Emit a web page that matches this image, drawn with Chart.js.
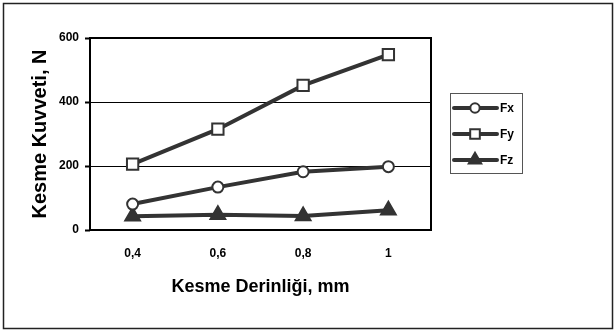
<!DOCTYPE html>
<html>
<head>
<meta charset="utf-8">
<script src="https://cdn.jsdelivr.net/npm/chart.js@4"></script>
<style>
  html, body { margin: 0; padding: 0; background: #fff; }
  #wrap { position: relative; width: 616px; height: 332px; }
</style>
</head>
<body>
<div id="wrap"><canvas id="c" width="616" height="332"></canvas></div>
<script>
const categories = ['0,4', '0,6', '0,8', '1'];
const fxValues = [81, 134, 182, 198];
const fyValues = [206, 315, 452, 548];
const fzValues = [43, 48, 44, 62];
const seriesNames = ['Fx', 'Fy', 'Fz'];
const yTickValues = [0, 200, 400, 600];
const xTitle = 'Kesme Derinliği, mm';
const yTitle = 'Kesme Kuvveti, N';

const ink = '#333333';
const fontFam = '"Liberation Sans", Arial, sans-serif';

const framePlugin = {
  id: 'frame',
  beforeDraw(chart) {
    const ctx = chart.ctx;
    ctx.save();
    ctx.fillStyle = '#fff';
    ctx.fillRect(0, 0, chart.width, chart.height);
    ctx.strokeStyle = '#222';
    ctx.lineWidth = 1.5;
    ctx.strokeRect(3.5, 3.5, chart.width - 7, chart.height - 7);
    ctx.restore();
  },
  beforeDatasetsDraw(chart) {
    const a = chart.chartArea;
    const ctx = chart.ctx;
    ctx.save();
    ctx.strokeStyle = '#000';
    ctx.lineWidth = 2;
    ctx.strokeRect(a.left, a.top, a.right - a.left, a.bottom - a.top);
    ctx.restore();
  },
  afterDraw(chart) {
    const ctx = chart.ctx;
    const bx = 450, by = 93, bw = 72, bh = 80;
    ctx.save();
    ctx.fillStyle = '#fff';
    ctx.fillRect(bx, by, bw, bh);
    ctx.strokeStyle = '#555';
    ctx.lineWidth = 1;
    ctx.strokeRect(bx + 0.5, by + 0.5, bw, bh);
    const rows = [108, 134, 160];
    chart.data.datasets.forEach((ds, i) => {
      const y = rows[i];
      ctx.strokeStyle = ds.borderColor;
      ctx.lineWidth = ds.borderWidth;
      ctx.lineCap = 'round';
      ctx.beginPath();
      ctx.moveTo(454, y);
      ctx.lineTo(497, y);
      ctx.stroke();
      ctx.lineCap = 'butt';
      ctx.fillStyle = ds.pointBackgroundColor;
      ctx.strokeStyle = ds.pointBorderColor;
      ctx.lineWidth = ds.pointBorderWidth;
      ctx.beginPath();
      const r = ds.pointRadius * 0.85;
      if (ds.pointStyle === 'circle') {
        ctx.arc(475, y, r, 0, Math.PI * 2);
      } else if (ds.pointStyle === 'rect') {
        const s = r * Math.SQRT1_2;
        ctx.rect(475 - s, y - s, 2 * s, 2 * s);
      } else {
        ctx.moveTo(475, y - r);
        ctx.lineTo(475 + r * Math.sin(Math.PI * 2 / 3), y - r * Math.cos(Math.PI * 2 / 3));
        ctx.lineTo(475 - r * Math.sin(Math.PI * 2 / 3), y - r * Math.cos(Math.PI * 2 / 3));
        ctx.closePath();
      }
      ctx.fill();
      ctx.stroke();
      ctx.fillStyle = '#000';
      ctx.font = 'bold 12px ' + fontFam;
      ctx.textBaseline = 'middle';
      ctx.textAlign = 'left';
      ctx.fillText(ds.label, 500, y + 1);
    });
    ctx.restore();
  }
};

function mkDataset(label, data, style, radius, fill) {
  return {
    label: label,
    data: data,
    borderColor: ink,
    borderWidth: 4,
    pointStyle: style,
    pointRadius: radius,
    pointHoverRadius: radius,
    pointBackgroundColor: fill,
    pointBorderColor: ink,
    pointBorderWidth: 2,
    tension: 0,
    fill: false
  };
}

new Chart(document.getElementById('c'), {
  type: 'line',
  data: {
    labels: categories,
    datasets: [
      mkDataset(seriesNames[0], fxValues, 'circle', 5.5, '#fff'),
      mkDataset(seriesNames[1], fyValues, 'rect', 8, '#fff'),
      mkDataset(seriesNames[2], fzValues, 'triangle', 8.5, ink)
    ]
  },
  options: {
    responsive: false,
    animation: false,
    devicePixelRatio: 1,
    layout: { padding: { left: 0, top: 38, right: 185, bottom: 0 } },
    plugins: {
      legend: { display: false },
      tooltip: { enabled: false }
    },
    scales: {
      x: {
        type: 'category',
        offset: true,
        afterFit(s) { s.height = 102; },
        grid: { display: false, drawTicks: false },
        border: { display: false },
        ticks: {
          color: '#000',
          padding: 16,
          font: { family: fontFam, size: 12, weight: 'bold' }
        },
        title: {
          display: true,
          text: xTitle,
          color: '#000',
          padding: { top: 0, bottom: 34 },
          font: { family: fontFam, size: 18, weight: 'bold' }
        }
      },
      y: {
        min: 0,
        max: 600,
        afterFit(s) { s.width = 90; },
        afterBuildTicks(s) { s.ticks = yTickValues.map(v => ({ value: v })); },
        grid: {
          color: '#000',
          lineWidth: 1,
          drawTicks: true,
          tickLength: 5,
          tickColor: '#000',
          tickWidth: 2
        },
        border: { display: false },
        ticks: {
          color: '#000',
          padding: 6,
          font: { family: fontFam, size: 12, weight: 'bold' }
        },
        title: {
          display: true,
          text: yTitle,
          color: '#000',
          padding: { top: 28, bottom: 0 },
          font: { family: fontFam, size: 20, weight: 'bold' }
        }
      }
    }
  },
  plugins: [framePlugin]
});
</script>
</body>
</html>
